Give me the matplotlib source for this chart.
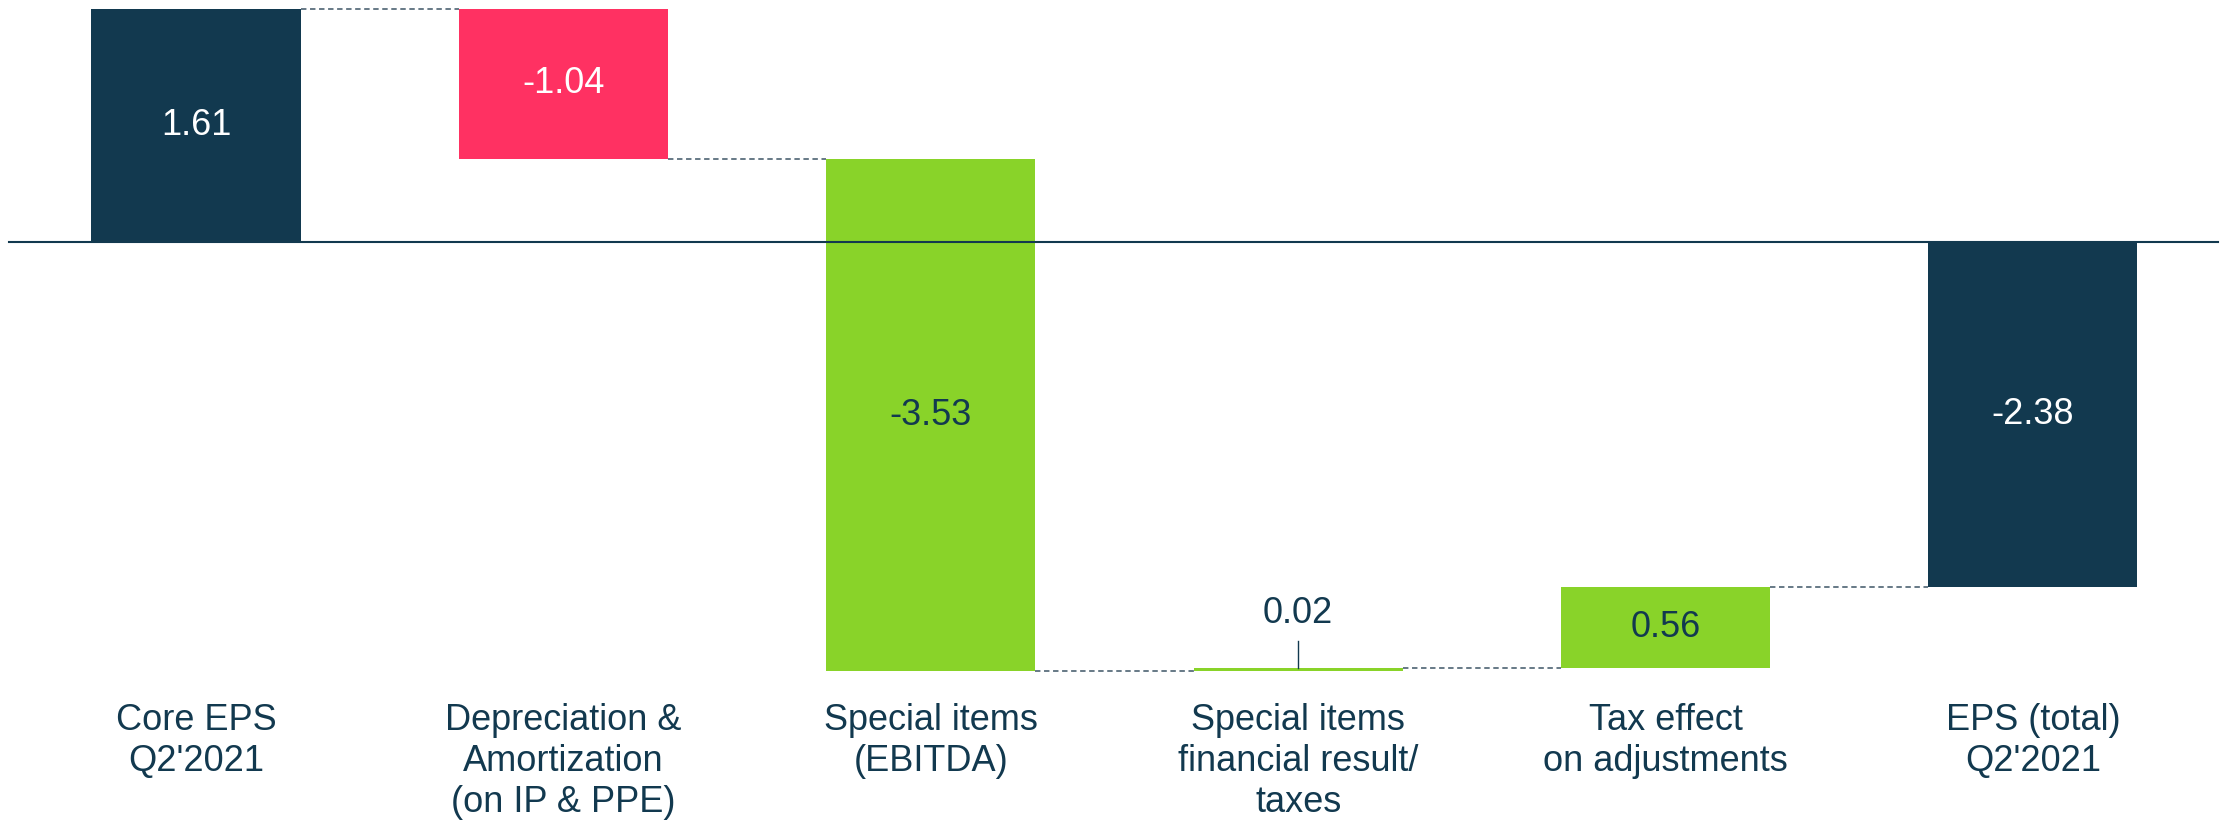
import matplotlib.pyplot as plt

# waterfall data
categories = ["Core EPS\nQ2'2021", "Depreciation &\nAmortization\n(on IP & PPE)",
              "Special items\n(EBITDA)", "Special items\nfinancial result/\ntaxes",
              "Tax effect\non adjustments", "EPS (total)\nQ2'2021"]
values = [1.61, -1.04, -3.53, 0.02, 0.56, -2.38]
labels = ["1.61", "-1.04", "-3.53", "0.02", "0.56", "-2.38"]
is_total = [True, False, False, False, False, True]

navy = "#12394F"
pink = "#FF3162"
green = "#89D329"
dash_col = "#5A6E7D"

plt.rcParams['font.family'] = ['Liberation Sans', 'DejaVu Sans']

fig = plt.figure(figsize=(22.21, 8.25), dpi=100)
ax = fig.add_axes([0, 0, 1, 1])
ax.set_xlim(-0.5335, 5.512)
ax.set_ylim(-4.021, 1.669)
ax.axis('off')

width = 0.569
running = 0
bottoms = []
for i, v in enumerate(values):
    if is_total[i]:
        bottom = 0
        running = v
    else:
        bottom = running
        running = running + v
    bottoms.append(bottom)
    if is_total[i]:
        col = navy
    elif v < 0 and i == 1:
        col = pink
    else:
        col = green
    ax.bar(i, v, bottom=bottom, width=width, color=col, zorder=2)

# levels after each bar
levels = []
running = 0
for i, v in enumerate(values):
    running = v if is_total[i] else running + v
    levels.append(running)

# dashed connectors
for i in range(len(values) - 1):
    ax.plot([i + width / 2, i + 1 - width / 2], [levels[i], levels[i]],
            color=dash_col, lw=1.3, ls=(0, (3, 2)), zorder=1)

# zero line
ax.plot([-0.51, 5.505], [0, 0], color=navy, lw=1.5, zorder=3)

# value labels
for i, v in enumerate(values):
    lo = min(bottoms[i], bottoms[i] + v)
    hi = max(bottoms[i], bottoms[i] + v)
    txt_col = "white" if i in (0, 1, 5) else navy
    if abs(v) < 0.1:
        ax.plot([i, i], [hi, hi + 0.19], color=navy, lw=1, zorder=3)
        ax.text(i, hi + 0.38, labels[i], ha='center', va='center',
                fontsize=26, color=navy)
    else:
        ax.text(i, (lo + hi) / 2, labels[i], ha='center', va='center',
                fontsize=26, color=txt_col, zorder=4)

# category labels
for i, c in enumerate(categories):
    ax.text(i, -3.18, c, ha='center', va='top', fontsize=26, color=navy,
            linespacing=1.22)

fig.savefig("out.png", dpi=100)
